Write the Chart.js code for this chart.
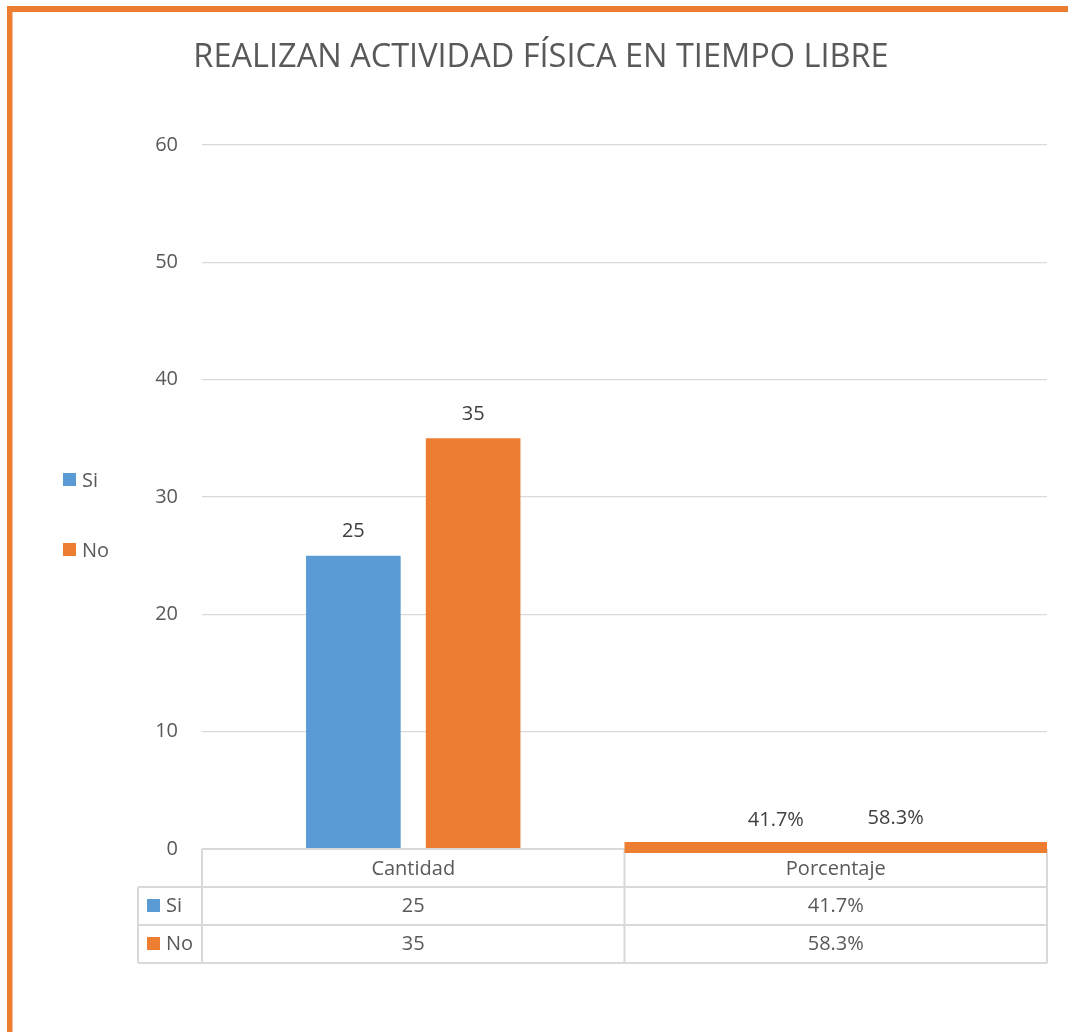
<!DOCTYPE html>
<html>
<head>
<meta charset="utf-8">
<script src="https://cdn.jsdelivr.net/npm/chart.js@4.4.1/dist/chart.umd.min.js"></script>
<style>
  body { margin: 0; background: #fff; }
  #wrap { width: 1068px; height: 1032px; position: relative; }
</style>
</head>
<body>
<div id="wrap"><canvas id="chart"></canvas></div>
<script>
// Chart data
const title = 'REALIZAN ACTIVIDAD FÍSICA EN TIEMPO LIBRE';
const categories = ['Cantidad', 'Porcentaje'];
const seriesNames = ['Si', 'No'];
const siValues = [25, 0.417];
const noValues = [35, 0.583];
const yTicks = [0, 10, 20, 30, 40, 50, 60];

const BLUE = '#5B9BD5';
const ORANGE = '#ED7D31';
const TEXT = '#595959';
const LINE = '#d9d9d9';
const FONT = '"Open Sans", sans-serif';

function fmt(v, i) {
  return i === 1 ? (v * 100).toFixed(1) + '%' : String(v);
}

// Frame, title and left legend
const framePlugin = {
  id: 'frame',
  beforeDraw(chart) {
    const ctx = chart.ctx;
    ctx.save();
    ctx.fillStyle = ORANGE;
    ctx.fillRect(7, 6, chart.width - 7, 6);
    ctx.fillRect(7, 6, 5.5, chart.height - 6);

    ctx.fillStyle = TEXT;
    ctx.font = '32.5px ' + FONT;
    ctx.textAlign = 'center';
    ctx.textBaseline = 'alphabetic';
    ctx.fillText(title, 541, 67);

    const colors = [BLUE, ORANGE];
    ctx.font = '20px ' + FONT;
    ctx.textAlign = 'left';
    ctx.textBaseline = 'middle';
    seriesNames.forEach((name, i) => {
      const y = 480 + i * 70;
      ctx.fillStyle = colors[i];
      ctx.fillRect(63, y - 7, 13, 13);
      ctx.fillStyle = TEXT;
      ctx.fillText(name, 82, y + 1);
    });
    ctx.restore();
  }
};

// Value labels above bars
const labelPlugin = {
  id: 'labels',
  afterDatasetsDraw(chart) {
    const ctx = chart.ctx;
    ctx.save();
    ctx.font = '20px ' + FONT;
    ctx.fillStyle = '#404040';
    ctx.textAlign = 'center';
    ctx.textBaseline = 'middle';
    chart.data.datasets.forEach((ds, d) => {
      chart.getDatasetMeta(d).data.forEach((bar, i) => {
        ctx.fillText(fmt(ds.data[i], i), bar.x, bar.y - 24);
      });
    });
    ctx.restore();
  }
};

// Data table under the plot
const tablePlugin = {
  id: 'table',
  afterDraw(chart) {
    const ctx = chart.ctx;
    const area = chart.chartArea;
    const w = area.width / categories.length;
    const rowH = 38;
    const top = area.bottom;
    const keyLeft = 138;
    const rows = [siValues, noValues];
    const colors = [BLUE, ORANGE];
    ctx.save();
    ctx.strokeStyle = LINE;
    ctx.lineWidth = 2;
    ctx.beginPath();
    ctx.moveTo(area.left, top);
    ctx.lineTo(area.right, top);
    for (let r = 1; r <= rows.length + 1; r++) {
      ctx.moveTo(keyLeft, top + r * rowH);
      ctx.lineTo(area.right, top + r * rowH);
    }
    for (let c = 0; c <= categories.length; c++) {
      ctx.moveTo(area.left + c * w, top);
      ctx.lineTo(area.left + c * w, top + 3 * rowH);
    }
    ctx.moveTo(keyLeft, top + rowH);
    ctx.lineTo(keyLeft, top + 3 * rowH);
    ctx.stroke();

    // flat orange band over the percentage group, as in the source
    ctx.fillStyle = ORANGE;
    ctx.fillRect(area.left + w, top - 7, w, 11);

    ctx.font = '20px ' + FONT;
    ctx.fillStyle = TEXT;
    ctx.textAlign = 'center';
    ctx.textBaseline = 'middle';
    categories.forEach((cat, c) => {
      const cx = area.left + c * w + w / 2;
      ctx.fillText(cat, cx, top + rowH / 2 + 1);
      rows.forEach((vals, r) => {
        ctx.fillText(fmt(vals[c], c), cx, top + (r + 1.5) * rowH);
      });
    });
    ctx.textAlign = 'left';
    seriesNames.forEach((name, r) => {
      const cy = top + (r + 1.5) * rowH;
      ctx.fillStyle = colors[r];
      ctx.fillRect(147, cy - 7, 13, 13);
      ctx.fillStyle = TEXT;
      ctx.fillText(name, 166, cy);
    });
    ctx.restore();
  }
};

const ctx = document.getElementById('chart').getContext('2d');
new Chart(ctx, {
  type: 'bar',
  data: {
    labels: categories,
    datasets: [
      { label: seriesNames[0], data: siValues, backgroundColor: BLUE },
      { label: seriesNames[1], data: noValues, backgroundColor: ORANGE }
    ]
  },
  options: {
    responsive: true,
    maintainAspectRatio: false,
    animation: false,
    datasets: {
      bar: { barPercentage: 0.79, categoryPercentage: 0.567 }
    },
    layout: { padding: { top: 145, right: 21, bottom: 183, left: 0 } },
    plugins: {
      legend: { display: false },
      title: { display: false },
      tooltip: { enabled: false }
    },
    scales: {
      x: { display: false },
      y: {
        min: yTicks[0],
        max: yTicks[yTicks.length - 1],
        afterFit(scale) { scale.width = 202; },
        afterBuildTicks(scale) { scale.ticks = yTicks.map(v => ({ value: v })); },
        ticks: {
          color: TEXT,
          padding: 24,
          font: { family: FONT, size: 20 }
        },
        grid: { color: LINE, lineWidth: 1.25, drawTicks: false },
        border: { display: false }
      }
    }
  },
  plugins: [framePlugin, labelPlugin, tablePlugin]
});
</script>
</body>
</html>
